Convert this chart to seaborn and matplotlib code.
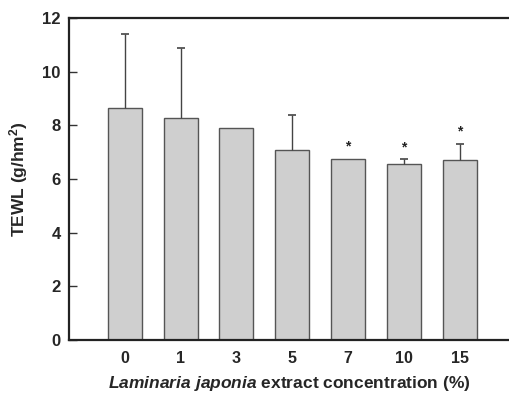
import matplotlib
matplotlib.use("Agg")
import matplotlib.pyplot as plt
import seaborn as sns
import pandas as pd
import numpy as np

concentrations = ["0", "1", "3", "5", "7", "10", "15"]
tewl_mean = [8.66, 8.26, 7.91, 7.07, 6.76, 6.55, 6.70]
tewl_sd = [2.76, 2.64, 0.0, 1.32, 0.0, 0.18, 0.60]
significant = [False, False, False, False, True, True, True]
y_ticks = [0, 2, 4, 6, 8, 10, 12]

sns.set_theme(style="white")
plt.rcParams["font.family"] = ["Liberation Sans", "DejaVu Sans"]
plt.rcParams["mathtext.fontset"] = "custom"
plt.rcParams["mathtext.rm"] = "Liberation Sans:bold"
plt.rcParams["mathtext.bf"] = "Liberation Sans:bold"
plt.rcParams["mathtext.it"] = "Liberation Sans:italic:bold"
plt.rcParams["mathtext.bfit"] = "Liberation Sans:italic:bold"

df = pd.DataFrame({"conc": concentrations, "tewl": tewl_mean})

fig = plt.figure(figsize=(5.10, 3.94), dpi=100)
ax = fig.add_axes([0.135, 0.137, 0.865, 0.817])

sns.barplot(data=df, x="conc", y="tewl", order=concentrations, color="#cfcfcf",
            edgecolor="#555555", linewidth=1.0, width=0.61, saturation=1,
            errorbar=None, ax=ax)

# upper-only error bars (SD), skipped where SD is zero
x = np.arange(len(concentrations))
mean_arr = np.array(tewl_mean)
sd_arr = np.array(tewl_sd)
has_err = sd_arr > 0
eb = ax.errorbar(x[has_err], mean_arr[has_err],
                 yerr=[np.zeros(has_err.sum()), sd_arr[has_err]], fmt="none",
                 ecolor="#444444", elinewidth=1.0, capsize=2.6, capthick=1.2)
eb[1][0].set_visible(False)

for xi, m, s, sig in zip(x, tewl_mean, tewl_sd, significant):
    if sig:
        ax.text(xi, m + s + 0.2, "*", ha="center", va="bottom",
                fontsize=10, fontweight="bold", color="#222222")

ax.set_xlim(-1.0, 6.9)
ax.set_ylim(0, 12)
ax.set_yticks(y_ticks)
ax.set_yticklabels([str(t) for t in y_ticks], fontsize=12, fontweight="bold")
ax.set_xticks(x)
ax.set_xticklabels(concentrations, fontsize=11.5, fontweight="bold")
ax.tick_params(axis="y", direction="in", length=6, width=1, color="#333333", pad=6, left=True)
ax.tick_params(axis="x", length=0, pad=8)

ax.set_ylabel(r"TEWL (g/hm$^\mathbf{2}$)", fontsize=12.5, fontweight="bold", labelpad=9)
ax.set_xlabel(r"$\mathbfit{Laminaria\ japonia}$ extract concentration (%)",
              fontsize=12.5, fontweight="bold", labelpad=6)

for side in ["left", "top", "bottom"]:
    ax.spines[side].set_color("#222222")
    ax.spines[side].set_linewidth(1.6)
ax.spines["right"].set_visible(False)

fig.savefig("out.png", dpi=100)
